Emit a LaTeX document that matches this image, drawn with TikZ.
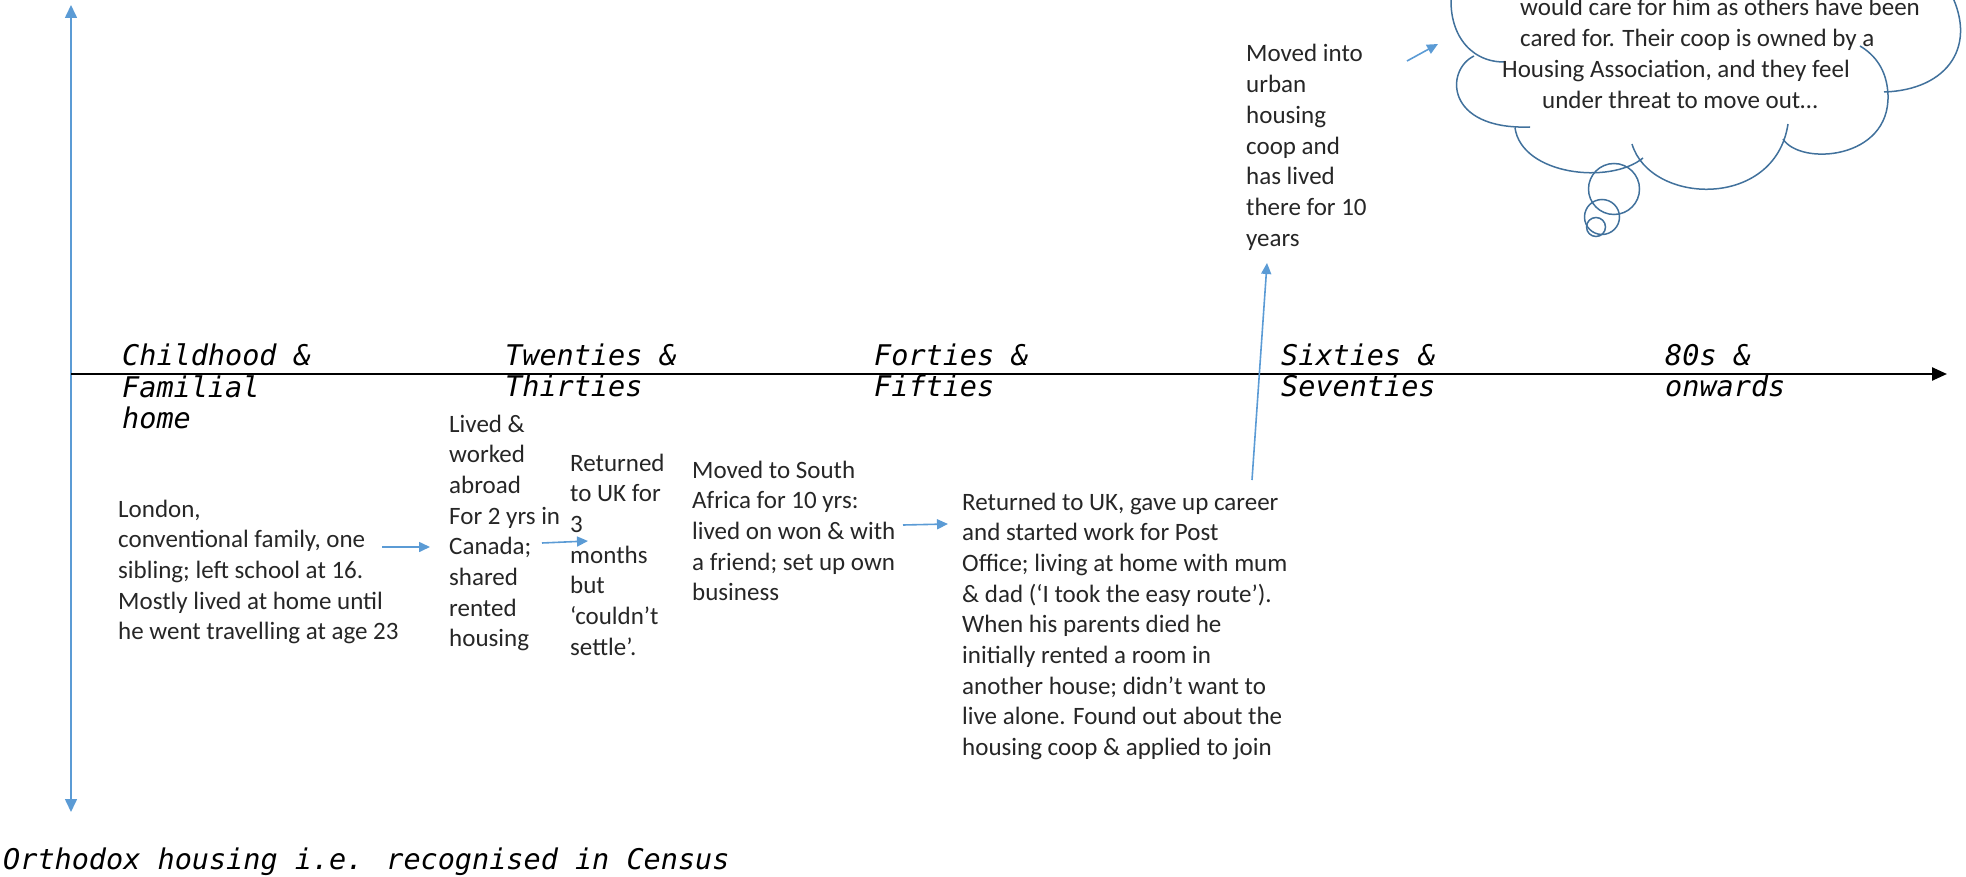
\documentclass[tikz,border=0pt]{standalone}
\usepackage{fontspec}
\setmainfont{Carlito}
\newfontfamily\erafont{DejaVu Sans Mono}
\usetikzlibrary{arrows.meta}
\definecolor{flowblue}{HTML}{5B9BD5}
\definecolor{cloudblue}{HTML}{41719C}
\definecolor{bodytext}{HTML}{262626}
% a left-aligned block whose reference point is the first baseline
\newcommand\textblock[1]{\begin{tabular}[t]{@{}l@{}}#1\end{tabular}}

\begin{document}
\begin{tikzpicture}[x=1pt,y=-1pt,
  body/.style={anchor=base west, inner sep=0pt, text=bodytext,
    font=\fontsize{25}{30.7}\selectfont},
  era/.style={anchor=base west, inner sep=0pt, text=black,
    font=\erafont\itshape\fontsize{28.5}{31}\selectfont},
  flow/.style={draw=flowblue, line width=1.6pt,
    -{Triangle[length=11pt,width=10pt]}},
  axisline/.style={draw=black, line width=2.4pt,
    -{Triangle[length=15pt,width=13pt]}},
  bubble/.style={draw=cloudblue, line width=1.5pt},
]
\useasboundingbox (0,0) rectangle (1966,877);

% ---- axes ----
\coordinate (vtop) at (71,5);
\coordinate (vbot) at (71,812);
\coordinate (hstart) at (71,374);
\coordinate (hend) at (1947,374);
\draw[flow, {Triangle[length=13pt,width=12pt]}-{Triangle[length=13pt,width=12pt]}] (vtop) -- (vbot);
\draw[axisline] (hstart) -- (hend);

% ---- life stages ----
\node[era] (eraA) at (122,366) {\textblock{Childhood \&\\Familial\\home}};
\node[era] (eraB) at (505,366) {\textblock{Twenties \&\\Thirties}};
\node[era] (eraC) at (874,366) {\textblock{Forties \&\\Fifties}};
\node[era] (eraD) at (1281,366) {\textblock{Sixties \&\\Seventies}};
\node[era] (eraE) at (1665,366) {\textblock{80s \&\\onwards}};
\node[era] (census) at (3,869) {Orthodox housing i.e. recognised in Census};

% ---- housing history ----
\node[body] (london) at (118,517) {\textblock{London,\\conventional family, one\\sibling; left school at 16.\\Mostly lived at home until\\he went travelling at age 23}};
\node[body] (canada) at (449,432) {\textblock{Lived \&\\worked\\abroad\\For 2 yrs in\\Canada;\\shared\\rented\\housing}};
\node[body] (ukshort) at (570,471) {\textblock{Returned\\to UK for\\3\\months\\but\\‘couldn’t\\settle’.}};
\node[body] (safrica) at (692,478) {\textblock{Moved to South\\Africa for 10 yrs:\\lived on won \& with\\a friend; set up own\\business}};
\node[body] (ukpost) at (962,510) {\textblock{Returned to UK, gave up career\\and started work for Post\\Office; living at home with mum\\\& dad (‘I took the easy route’).\\When his parents died he\\initially rented a room in\\another house; didn’t want to\\live alone. Found out about the\\housing coop \& applied to join}};
\node[body] (coop) at (1246,62) {\textblock{Moved into\\urban\\housing\\coop and\\has lived\\there for 10\\years}};

% ---- thought cloud (runs off the top edge) ----
\begin{scope}
\clip (0,0) rectangle (1966,877);
\path[bubble]
  (1452,-12) .. controls (1446,30) and (1468,62) .. (1504,62)
  (1474,56) .. controls (1445,70) and (1445,130) .. (1530,127)
  (1515,128) .. controls (1522,175) and (1610,185) .. (1643,158)
  (1632,144) .. controls (1650,205) and (1775,210) .. (1788,124)
  (1783,139) .. controls (1800,166) and (1890,160) .. (1888,95)
             .. controls (1887,70) and (1875,55) .. (1860,46)
  (1884,92) .. controls (1948,90) and (1980,45) .. (1948,-12);
\end{scope}
\node[bubble, circle, minimum size=51pt, inner sep=0pt] (puffA) at (1614,189) {};
\node[bubble, circle, minimum size=35pt, inner sep=0pt] (puffB) at (1602,217) {};
\node[bubble, circle, minimum size=19pt, inner sep=0pt] (puffC) at (1596,227) {};
\node[body] (thought) at (1502,16) {\textblock{\hspace*{18pt}would care for him as others have been\\\hspace*{18pt}cared for. Their coop is owned by a\\Housing Association, and they feel\\\hspace*{40pt}under threat to move out…}};

% ---- moves between homes ----
\coordinate (m1a) at (382,547);  \coordinate (m1b) at (430,547);
\coordinate (m2a) at (542,543);  \coordinate (m2b) at (588,541);
\coordinate (m3a) at (903,525);  \coordinate (m3b) at (948,524);
\coordinate (m4a) at (1252,480); \coordinate (m4b) at (1267,263);
\coordinate (m5a) at (1407,61);  \coordinate (m5b) at (1438,44);
\draw[flow] (m1a) -- (m1b);
\draw[flow] (m2a) -- (m2b);
\draw[flow] (m3a) -- (m3b);
\draw[flow] (m4a) -- (m4b);
\draw[flow] (m5a) -- (m5b);
\end{tikzpicture}
\end{document}
